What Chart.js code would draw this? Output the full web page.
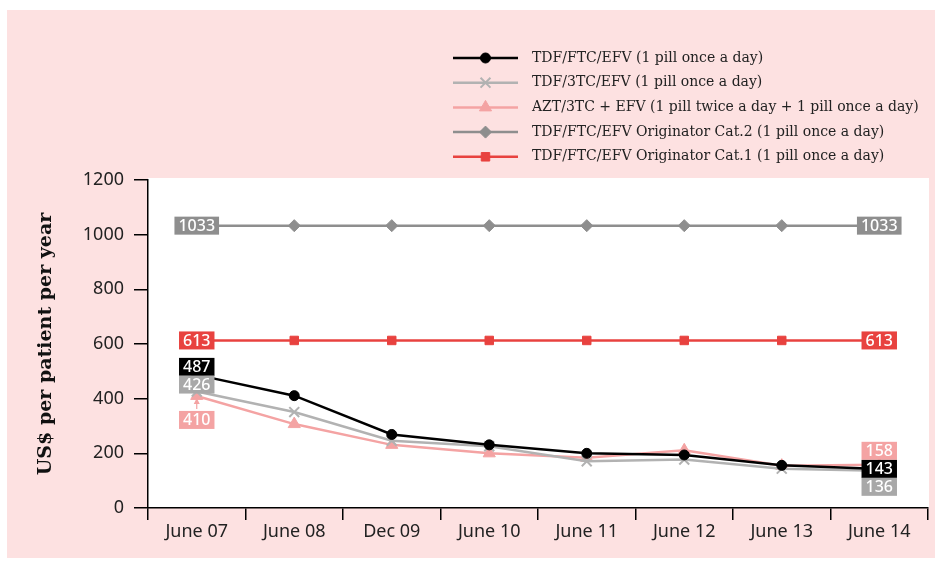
<!DOCTYPE html>
<html>
<head>
<meta charset="utf-8">
<script src="https://cdn.jsdelivr.net/npm/chart.js@4.4.1/dist/chart.umd.min.js"></script>
<style>
  html, body { margin: 0; padding: 0; background: #fff; }
</style>
</head>
<body>
<canvas id="myChart" width="941" height="561"></canvas>
<script>
// categories and series
var categories = ['June 07', 'June 08', 'Dec 09', 'June 10', 'June 11', 'June 12', 'June 13', 'June 14']
var yTicks = [0, 200, 400, 600, 800, 1000, 1200]

var tdfFtcEfv = [487, 411, 269, 231, 200, 194, 156, 143]
var tdf3tcEfv = [426, 351, 246, 226, 171, 177, 144, 136]
var azt3tcEfv = [410, 307, 231, 200, 184, 211, 155, 158]
var originatorCat2 = [1033, 1033, 1033, 1033, 1033, 1033, 1033, 1033]
var originatorCat1 = [613, 613, 613, 613, 613, 613, 613, 613]

var seriesNames = [
  'TDF/FTC/EFV (1 pill once a day)',
  'TDF/3TC/EFV (1 pill once a day)',
  'AZT/3TC + EFV (1 pill twice a day + 1 pill once a day)',
  'TDF/FTC/EFV Originator Cat.2 (1 pill once a day)',
  'TDF/FTC/EFV Originator Cat.1 (1 pill once a day)'
]

var BLACK = '#000000'
var LIGHTGREY = '#b2b2b2'
var PINK = '#f4a3a3'
var DARKGREY = '#8e8e8e'
var RED = '#e8423f'

function line(label, data, color, style, radius) {
  return {
    label: label,
    data: data,
    borderColor: color,
    backgroundColor: color,
    borderWidth: 2.5,
    pointStyle: style,
    pointRadius: radius,
    pointHoverRadius: radius,
    pointBorderWidth: style === 'crossRot' ? 2 : 1,
    tension: 0
  }
}

// value boxes at the first / last point of the lines
var valueBoxes = [
  { ds: 3, idx: 0, dy: 0, bg: DARKGREY },
  { ds: 4, idx: 0, dy: 0, bg: RED },
  { ds: 0, idx: 0, dy: -8, bg: BLACK },
  { ds: 1, idx: 0, dy: -7, bg: '#a8a8a8' },
  { ds: 2, idx: 0, dy: 24, bg: PINK, arrow: true },
  { ds: 3, idx: 7, dy: 0, bg: DARKGREY },
  { ds: 4, idx: 7, dy: 0, bg: RED },
  { ds: 2, idx: 7, dy: -14, bg: PINK },
  { ds: 0, idx: 7, dy: 0, bg: BLACK },
  { ds: 1, idx: 7, dy: 16, bg: '#a8a8a8' }
]

var backgroundPlugin = {
  id: 'pinkBackground',
  beforeDraw(chart) {
    var ctx = chart.ctx
    var a = chart.chartArea
    ctx.save()
    ctx.fillStyle = '#ffffff'
    ctx.fillRect(0, 0, chart.width, chart.height)
    ctx.fillStyle = '#fde1e1'
    ctx.fillRect(7, 10, 928, 548)
    ctx.fillStyle = '#ffffff'
    ctx.fillRect(a.left, a.top - 2, a.right - a.left + 1, a.bottom - a.top + 2)
    ctx.restore()
  }
}

var legendPlugin = {
  id: 'stackedLegend',
  afterDraw(chart) {
    var ctx = chart.ctx
    ctx.save()
    chart.data.datasets.forEach((ds, i) => {
      var y = 58 + i * 24.7
      ctx.strokeStyle = ds.borderColor
      ctx.fillStyle = ds.backgroundColor
      ctx.lineWidth = 2.5
      ctx.beginPath()
      ctx.moveTo(453, y)
      ctx.lineTo(518, y)
      ctx.stroke()
      ctx.lineWidth = ds.pointBorderWidth
      Chart.helpers.drawPoint(ctx, {
        pointStyle: ds.pointStyle,
        radius: ds.pointRadius,
        rotation: 0,
        borderWidth: ds.pointBorderWidth
      }, 485.5, y)
      ctx.fillStyle = '#222'
      ctx.font = '14px "DejaVu Serif"'
      ctx.textBaseline = 'middle'
      ctx.textAlign = 'left'
      ctx.fillText(ds.label, 532, y)
    })
    ctx.restore()
  }
}

var valueBoxPlugin = {
  id: 'valueBoxes',
  afterDatasetsDraw(chart) {
    var ctx = chart.ctx
    ctx.save()
    ctx.font = '500 16px "Noto Sans"'
    ctx.textAlign = 'center'
    ctx.textBaseline = 'middle'
    valueBoxes.forEach(b => {
      var pt = chart.getDatasetMeta(b.ds).data[b.idx]
      var text = String(chart.data.datasets[b.ds].data[b.idx])
      var w = ctx.measureText(text).width + 8
      var h = 18
      var cx = pt.x
      var cy = pt.y + b.dy
      if (b.arrow) {
        ctx.strokeStyle = b.bg
        ctx.fillStyle = b.bg
        ctx.lineWidth = 1.2
        ctx.beginPath()
        ctx.moveTo(cx, cy - h / 2 - 2)
        ctx.lineTo(cx, pt.y + 4)
        ctx.stroke()
        ctx.beginPath()
        ctx.moveTo(cx, pt.y + 2)
        ctx.lineTo(cx - 3, pt.y + 8)
        ctx.lineTo(cx + 3, pt.y + 8)
        ctx.closePath()
        ctx.fill()
      }
      ctx.fillStyle = b.bg
      ctx.fillRect(cx - w / 2, cy - h / 2, w, h)
      ctx.fillStyle = '#ffffff'
      ctx.fillText(text, cx, cy + 1)
    })
    ctx.restore()
  }
}

var ctx = document.getElementById('myChart').getContext('2d')
var chart = new Chart(ctx, {
  type: 'line',
  data: {
    labels: categories,
    datasets: [
      line(seriesNames[0], tdfFtcEfv, BLACK, 'circle', 5),
      line(seriesNames[1], tdf3tcEfv, LIGHTGREY, 'crossRot', 7),
      line(seriesNames[2], azt3tcEfv, PINK, 'triangle', 7),
      line(seriesNames[3], originatorCat2, DARKGREY, 'rectRot', 6),
      line(seriesNames[4], originatorCat1, RED, 'rect', 6)
    ]
  },
  options: {
    responsive: false,
    animation: false,
    devicePixelRatio: 1,
    layout: { padding: { top: 180, left: 8, right: 13, bottom: 0 } },
    plugins: {
      legend: { display: false },
      tooltip: { enabled: false }
    },
    scales: {
      x: {
        offset: true,
        grid: {
          offset: true,
          drawOnChartArea: false,
          drawTicks: true,
          tickLength: 12,
          color: '#000',
          lineWidth: 1.5
        },
        border: { display: true, color: '#000', width: 1.5 },
        ticks: {
          color: '#222',
          padding: 1,
          font: { family: 'Noto Sans', size: 18 }
        },
        afterFit(scale) { scale.height = 53 }
      },
      y: {
        min: 0,
        max: 1200,
        afterBuildTicks(scale) {
          scale.ticks = yTicks.map(v => ({ value: v }))
        },
        grid: {
          drawOnChartArea: false,
          drawTicks: true,
          tickLength: 14,
          color: '#000',
          lineWidth: 1.5
        },
        border: { display: true, color: '#000', width: 1.5 },
        ticks: {
          color: '#222',
          padding: 10,
          font: { family: 'Noto Sans', size: 18 },
          callback: v => String(v)
        },
        title: {
          display: true,
          text: 'US$ per patient per year',
          color: '#111',
          padding: { top: 27, bottom: 0 },
          font: { family: 'DejaVu Serif', size: 19, weight: 'bold' }
        },
        afterFit(scale) { scale.width = 140 }
      }
    }
  },
  plugins: [backgroundPlugin, valueBoxPlugin, legendPlugin]
})
</script>
</body>
</html>
